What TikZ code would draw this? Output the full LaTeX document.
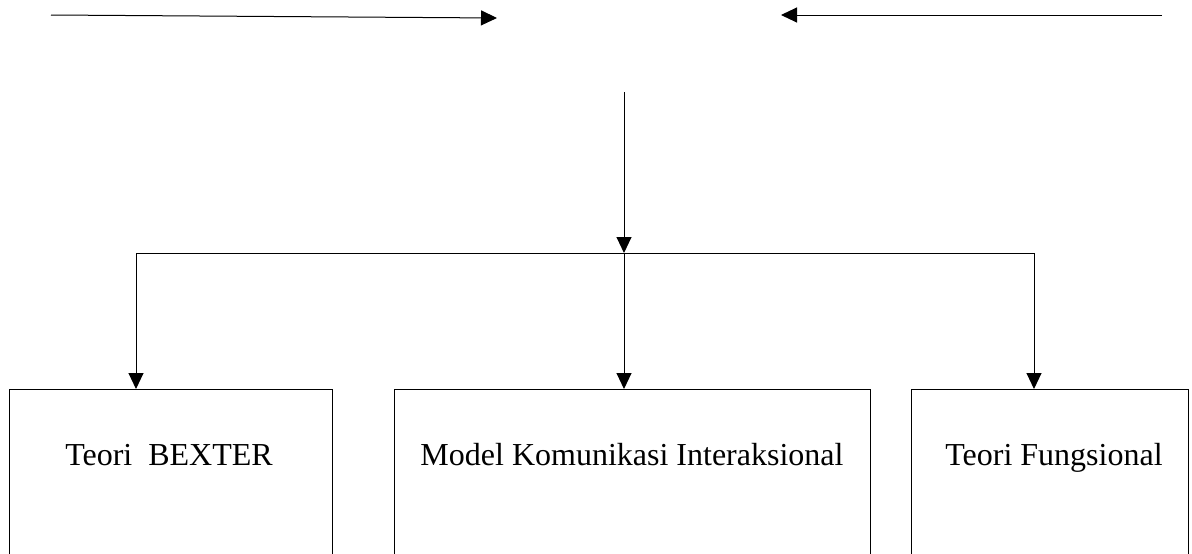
\documentclass[tikz,border=0pt]{standalone}
\usepackage{fontspec}
\setmainfont{Liberation Serif}
\usetikzlibrary{arrows.meta}
\begin{document}
\begin{tikzpicture}[x=1pt,y=-1pt,
  conn/.style={draw=black, line width=1pt},
  arr/.style={conn, -{Triangle[length=16pt,width=15pt]}},
  box/.style={draw=black, line width=1pt, anchor=north west, inner sep=0pt},
  lbl/.style={font=\fontsize{32pt}{38pt}\selectfont, inner sep=0pt, anchor=base}]
\useasboundingbox (0,0) rectangle (1192,554);
% boxes
\node[box, minimum width=323pt, minimum height=175pt] (b1) at (9,389) {};
\node[box, minimum width=476pt, minimum height=175pt] (b2) at (394,389) {};
\node[box, minimum width=277pt, minimum height=175pt] (b3) at (911,389) {};
\node[lbl] (t1) at (169,465) {Teori\ \ BEXTER};
\node[lbl] (t2) at (632,465) {Model Komunikasi Interaksional};
\node[lbl] (t3) at (1054,465) {Teori Fungsional};
% coordinates
\coordinate (la) at (51,15);
\coordinate (lb) at (497,18);
\coordinate (ra) at (1162,15);
\coordinate (rb) at (781,15);
\coordinate (va) at (624,92);
\coordinate (j1) at (136,253);
\coordinate (j2) at (624,253);
\coordinate (j3) at (1034,253);
% connectors
\draw[arr] (la) -- (lb);
\draw[arr] (ra) -- (rb);
\draw[arr] (va) -- (j2);
\draw[conn] (j1) -- (j3);
\draw[arr] (j1) -- (j1 |- b1.north);
\draw[arr] (j2) -- (j2 |- b2.north);
\draw[arr] (j3) -- (j3 |- b3.north);
\end{tikzpicture}
\end{document}
